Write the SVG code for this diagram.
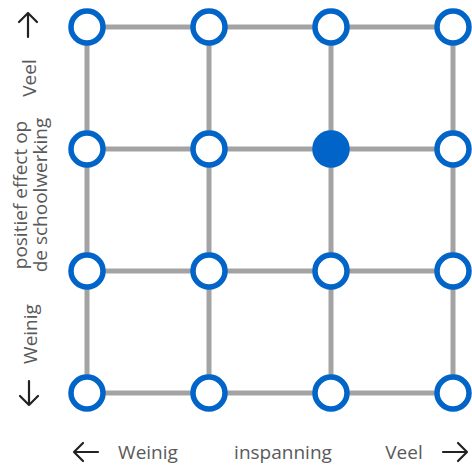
<svg xmlns="http://www.w3.org/2000/svg" width="472" height="466" viewBox="0 0 472 466">
<style>
.grid{stroke:#a3a3a3;stroke-width:5;fill:none}
.node{fill:#fff;stroke:#0064c8;stroke-width:5.5}
.filled{fill:#0064c8;stroke:#0064c8;stroke-width:5.5}
.lbl{font-family:"Open Sans","Noto Sans",sans-serif;font-size:19px;fill:#5a5a5a}
.arr{stroke:#222;stroke-width:2.2;fill:none;stroke-linecap:round;stroke-linejoin:round}
</style>
<rect width="472" height="466" fill="#fff"/>
<g id="connectors">
<path class="grid" d="M87 27H453M87 149H453M87 271H453M87 393H453M87 27V393M209 27V393M331 27V393M453 27V393"/>
</g>
<g id="n00"><circle class="node" cx="87" cy="27" r="16"/></g>
<g id="n01"><circle class="node" cx="209" cy="27" r="16"/></g>
<g id="n02"><circle class="node" cx="331" cy="27" r="16"/></g>
<g id="n03"><circle class="node" cx="453" cy="27" r="16"/></g>
<g id="n10"><circle class="node" cx="87" cy="149" r="16"/></g>
<g id="n11"><circle class="node" cx="209" cy="149" r="16"/></g>
<g id="n12"><circle class="filled" cx="331" cy="149" r="16"/></g>
<g id="n13"><circle class="node" cx="453" cy="149" r="16"/></g>
<g id="n20"><circle class="node" cx="87" cy="271" r="16"/></g>
<g id="n21"><circle class="node" cx="209" cy="271" r="16"/></g>
<g id="n22"><circle class="node" cx="331" cy="271" r="16"/></g>
<g id="n23"><circle class="node" cx="453" cy="271" r="16"/></g>
<g id="n30"><circle class="node" cx="87" cy="393" r="16"/></g>
<g id="n31"><circle class="node" cx="209" cy="393" r="16"/></g>
<g id="n32"><circle class="node" cx="331" cy="393" r="16"/></g>
<g id="n33"><circle class="node" cx="453" cy="393" r="16"/></g>
<g id="yaxis">
<path class="arr" d="M28 37V13M19 22L28 13L37 22"/>
<path class="arr" d="M29 381V405M20 396L29 405L38 396"/>
<text class="lbl" text-anchor="middle" transform="translate(36 78) rotate(-90)">Veel</text>
<text class="lbl" text-anchor="middle" transform="translate(27 195) rotate(-90)">positief effect op</text>
<text class="lbl" text-anchor="middle" transform="translate(47 195) rotate(-90)">de schoolwerking</text>
<text class="lbl" text-anchor="middle" transform="translate(37 334) rotate(-90)">Weinig</text>
</g>
<g id="xaxis">
<path class="arr" d="M98 452H74M83 443L74 452L83 461"/>
<path class="arr" d="M443 452H467M458 443L467 452L458 461"/>
<text class="lbl" x="148" y="459" text-anchor="middle">Weinig</text>
<text class="lbl" x="283" y="459" text-anchor="middle">inspanning</text>
<text class="lbl" x="404" y="459" text-anchor="middle">Veel</text>
</g>
</svg>
